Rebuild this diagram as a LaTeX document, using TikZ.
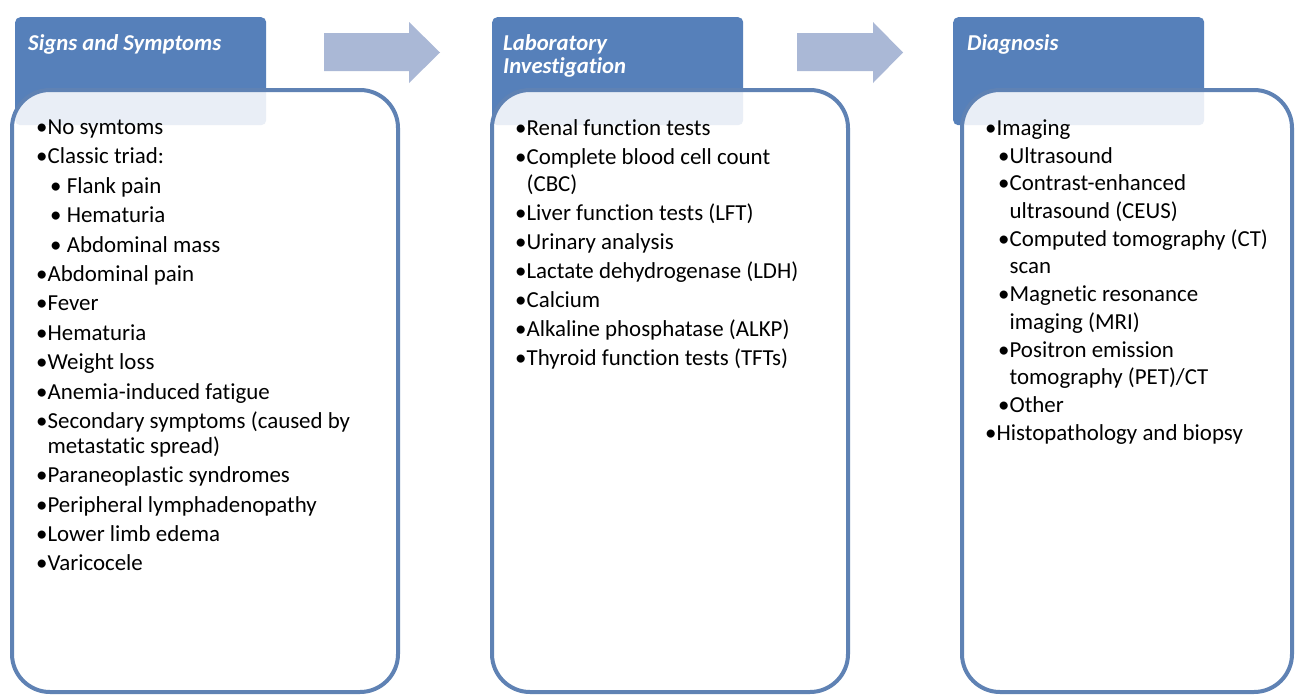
\documentclass[tikz,border=0pt]{standalone}
\usepackage{fontspec}
\setmainfont{Carlito}[Ligatures=NoCommon]
\usepackage{xcolor}
\usepackage{tikz}
\usetikzlibrary{positioning}

\definecolor{tabblue}{RGB}{86,128,186}
\definecolor{lineblue}{RGB}{95,130,180}
\definecolor{flowblue}{RGB}{170,184,214}

\begin{document}
\begin{tikzpicture}[x=1pt, y=-1pt,
  tab/.style={fill=tabblue, rounded corners=5pt, anchor=north west, inner sep=0pt, minimum width=251pt, minimum height=108pt},
  panel/.style={draw=lineblue, line width=4pt, fill=white, fill opacity=0.87, rounded corners=38pt, anchor=north west, inner sep=0pt, outer sep=0pt, minimum height=602pt},
  title/.style={anchor=north west, inner sep=0pt, text=white, align=left, font=\fontsize{22.7}{23.5}\selectfont\bfseries\itshape},
  items/.style={anchor=north west, inner sep=0pt, align=left},
  flow/.style={fill=flowblue}]
  \fill[white] (0,0) rectangle (1296,696);
  \useasboundingbox (0,0) rectangle (1296,696);

  % arrows between the steps
  \fill[flow] (324,33) -- (409,33) -- (409,22) -- (440,52.5) -- (409,83) -- (409,71) -- (324,71) -- cycle;
  \fill[flow] (797,33) -- (873,33) -- (873,22) -- (903,52.5) -- (873,83) -- (873,71) -- (797,71) -- cycle;

  % step 1
  \node[tab] (signtab) at (15,17) {};
  \node[panel, minimum width=386pt] (signbox) at (12,90) {};
  \node[title] (signtitle) at (28,34) {Signs and Symptoms};
  \node[items, font=\fontsize{22.9}{29.4}\selectfont] (signlist) at (36,119.5) {%
    •No symtoms\\
    •Classic triad:\\
    \hspace*{14pt}• Flank pain\\
    \hspace*{14pt}• Hematuria\\
    \hspace*{14pt}• Abdominal mass\\
    •Abdominal pain\\
    •Fever\\
    •Hematuria\\
    •Weight loss\\
    •Anemia-induced fatigue\\
    •Secondary symptoms (caused by\\[-4.4pt]
    \hphantom{•}metastatic spread)\\
    •Paraneoplastic syndromes\\
    •Peripheral lymphadenopathy\\
    •Lower limb edema\\
    •Varicocele};

  % step 2
  \node[tab] (labtab) at (492,17) {};
  \node[panel, minimum width=356pt] (labbox) at (492,90) {};
  \node[title] (labtitle) at (503,34) {Laboratory\\Investigation};
  \node[items, font=\fontsize{22.9}{29}\selectfont] (lablist) at (515,119.5) {%
    •Renal function tests\\
    •Complete blood cell count\\[-2pt]
    \hphantom{•}(CBC)\\
    •Liver function tests (LFT)\\
    •Urinary analysis\\
    •Lactate dehydrogenase (LDH)\\
    •Calcium\\
    •Alkaline phosphatase (ALKP)\\
    •Thyroid function tests (TFTs)};

  % step 3
  \node[tab] (diagtab) at (953,17) {};
  \node[panel, minimum width=330pt] (diagbox) at (962,90) {};
  \node[title] (diagtitle) at (967,34) {Diagnosis};
  \node[items, font=\fontsize{22.9}{27.7}\selectfont] (diaglist) at (985,119.5) {%
    •Imaging\\
    \hspace*{13pt}•Ultrasound\\
    \hspace*{13pt}•Contrast-enhanced\\
    \hspace*{13pt}\hphantom{•}ultrasound (CEUS)\\
    \hspace*{13pt}•Computed tomography (CT)\\
    \hspace*{13pt}\hphantom{•}scan\\
    \hspace*{13pt}•Magnetic resonance\\
    \hspace*{13pt}\hphantom{•}imaging (MRI)\\
    \hspace*{13pt}•Positron emission\\
    \hspace*{13pt}\hphantom{•}tomography (PET)/CT\\
    \hspace*{13pt}•Other\\
    •Histopathology and biopsy};
\end{tikzpicture}
\end{document}
